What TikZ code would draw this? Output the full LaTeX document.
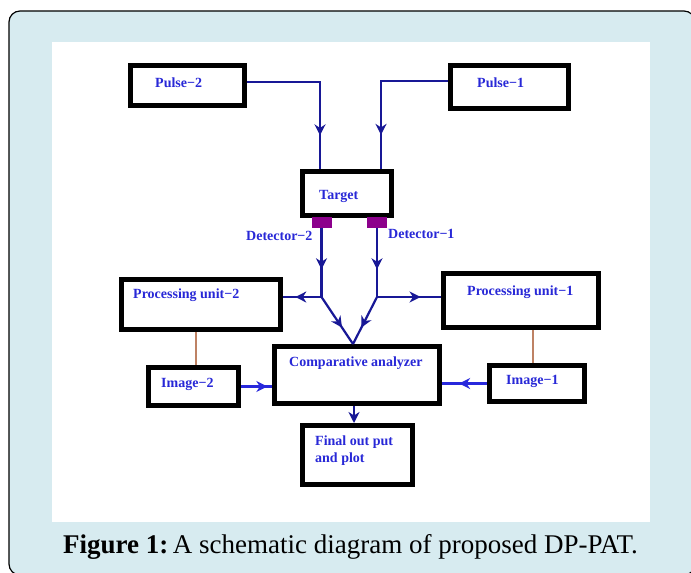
\documentclass[tikz,border=0pt]{standalone}
\usepackage{fontspec}
\setmainfont{Liberation Serif}
\usetikzlibrary{arrows.meta,decorations.markings}
\definecolor{framefill}{RGB}{215,235,240}
\definecolor{linkblue}{RGB}{24,24,150}
\definecolor{linkbright}{RGB}{40,40,220}
\definecolor{textblue}{RGB}{40,40,215}
\definecolor{detpurple}{RGB}{140,0,140}
\definecolor{linkbrown}{RGB}{190,130,100}
\begin{document}
\begin{tikzpicture}[x=1pt,y=-1pt,
  box/.style={draw=black,line width=5pt,fill=white,inner sep=0pt},
  det/.style={fill=detpurple,inner sep=0pt,minimum width=20pt,minimum height=11pt},
  lbl/.style={text=textblue,font=\fontsize{14}{17}\selectfont\bfseries,anchor=west,inner sep=0pt,align=left},
  conn/.style={draw=linkblue,line width=2.2pt},
  brightconn/.style={draw=linkbright,line width=2.2pt},
  brn/.style={draw=linkbrown,line width=1.3pt},
  tipend/.style={-{Stealth[length=11pt,width=11pt,inset=3.5pt]}},
  marr/.style={postaction=decorate,decoration={markings,mark=at position #1 with {\arrow{Stealth[length=11pt,width=11pt,inset=3.5pt]}}}}
]
\useasboundingbox (0,0) rectangle (691,573);
\clip (0,0) rectangle (691,573);
% frame and panel
\path[draw=black,line width=1.2pt,fill=framefill,rounded corners=11pt] (9,11) rectangle (695,575);
\path[fill=white] (52,42) rectangle (650,522);

% boxes
\node[box,minimum width=114pt,minimum height=40pt] (p2) at (187.5,85.5) {};
\node[box,minimum width=118pt,minimum height=43pt] (p1) at (509.5,87) {};
\node[box,minimum width=89pt,minimum height=44pt] (tg) at (347,193.5) {};
\node[box,minimum width=159pt,minimum height=50pt] (pu2) at (201,304.5) {};
\node[box,minimum width=155pt,minimum height=54pt] (pu1) at (521,300.5) {};
\node[box,minimum width=165pt,minimum height=57pt] (ca) at (357,375) {};
\node[box,minimum width=90pt,minimum height=38pt] (im2) at (193.5,386.5) {};
\node[box,minimum width=95pt,minimum height=36pt] (im1) at (537,383.5) {};
\node[box,minimum width=110pt,minimum height=59pt] (fin) at (357.5,455) {};

% detectors
\node[det] (d2) at (321.5,222) {};
\node[det] (d1) at (377,222) {};

% labels
\node[lbl] (tp2) at (155,83) {Pulse−2};
\node[lbl] (tp1) at (477,83) {Pulse−1};
\node[lbl] (ttg) at (319,196) {Target};
\node[lbl] (td2) at (246,236) {Detector−2};
\node[lbl] (td1) at (388,234) {Detector−1};
\node[lbl] (tpu2) at (133,295) {Processing unit−2};
\node[lbl] (tpu1) at (467,292) {Processing unit−1};
\node[lbl] (tca) at (289,363) {Comparative analyzer};
\node[lbl] (tim2) at (161,384) {Image−2};
\node[lbl] (tim1) at (506,381) {Image−1};
\node[lbl] (tfin) at (315,450.5) {Final out put\\and plot};

% junctions
\coordinate (j2) at (321.5,297);
\coordinate (j1) at (377,297);

% connectors
\draw[conn,marr=0.79] ([yshift=3.5pt]p2.east) -| ([xshift=-27pt]tg.north);
\draw[conn,marr=0.78] ([yshift=6pt]p1.west) -| ([xshift=34pt]tg.north);
\draw[conn,marr=0.6] (d2.south) -- (j2);
\draw[conn,marr=0.6] (d1.south) -- (j1);
\draw[conn,marr=0.68] (j2) -- (j2 -| pu2.east);
\draw[conn,marr=0.68] (j1) -- (j1 -| pu1.west);
\draw[conn,marr=0.65] (j2) -- ([xshift=-4pt]ca.north);
\draw[conn,marr=0.65] (j1) -- ([xshift=-4pt]ca.north);
\draw[brightconn,marr=0.85] (im2.east) -- (im2.east -| ca.west);
\draw[brightconn,marr=0.62] (im1.west) -- (im1.west -| ca.east);
\draw[conn,tipend] ([xshift=-3pt]ca.south) -- ([xshift=-3pt]ca.south |- fin.north);
\draw[brn] ([xshift=-5pt]pu2.south) -- ([xshift=-5pt]pu2.south |- im2.north);
\draw[brn] ([xshift=12pt]pu1.south) -- ([xshift=12pt]pu1.south |- im1.north);

% caption
\node[anchor=base,inner sep=0pt,font=\fontsize{27}{32}\selectfont] (cap) at (350.5,553) {\textbf{Figure 1:}\,A schematic diagram of proposed DP-PAT.};
\end{tikzpicture}
\end{document}
